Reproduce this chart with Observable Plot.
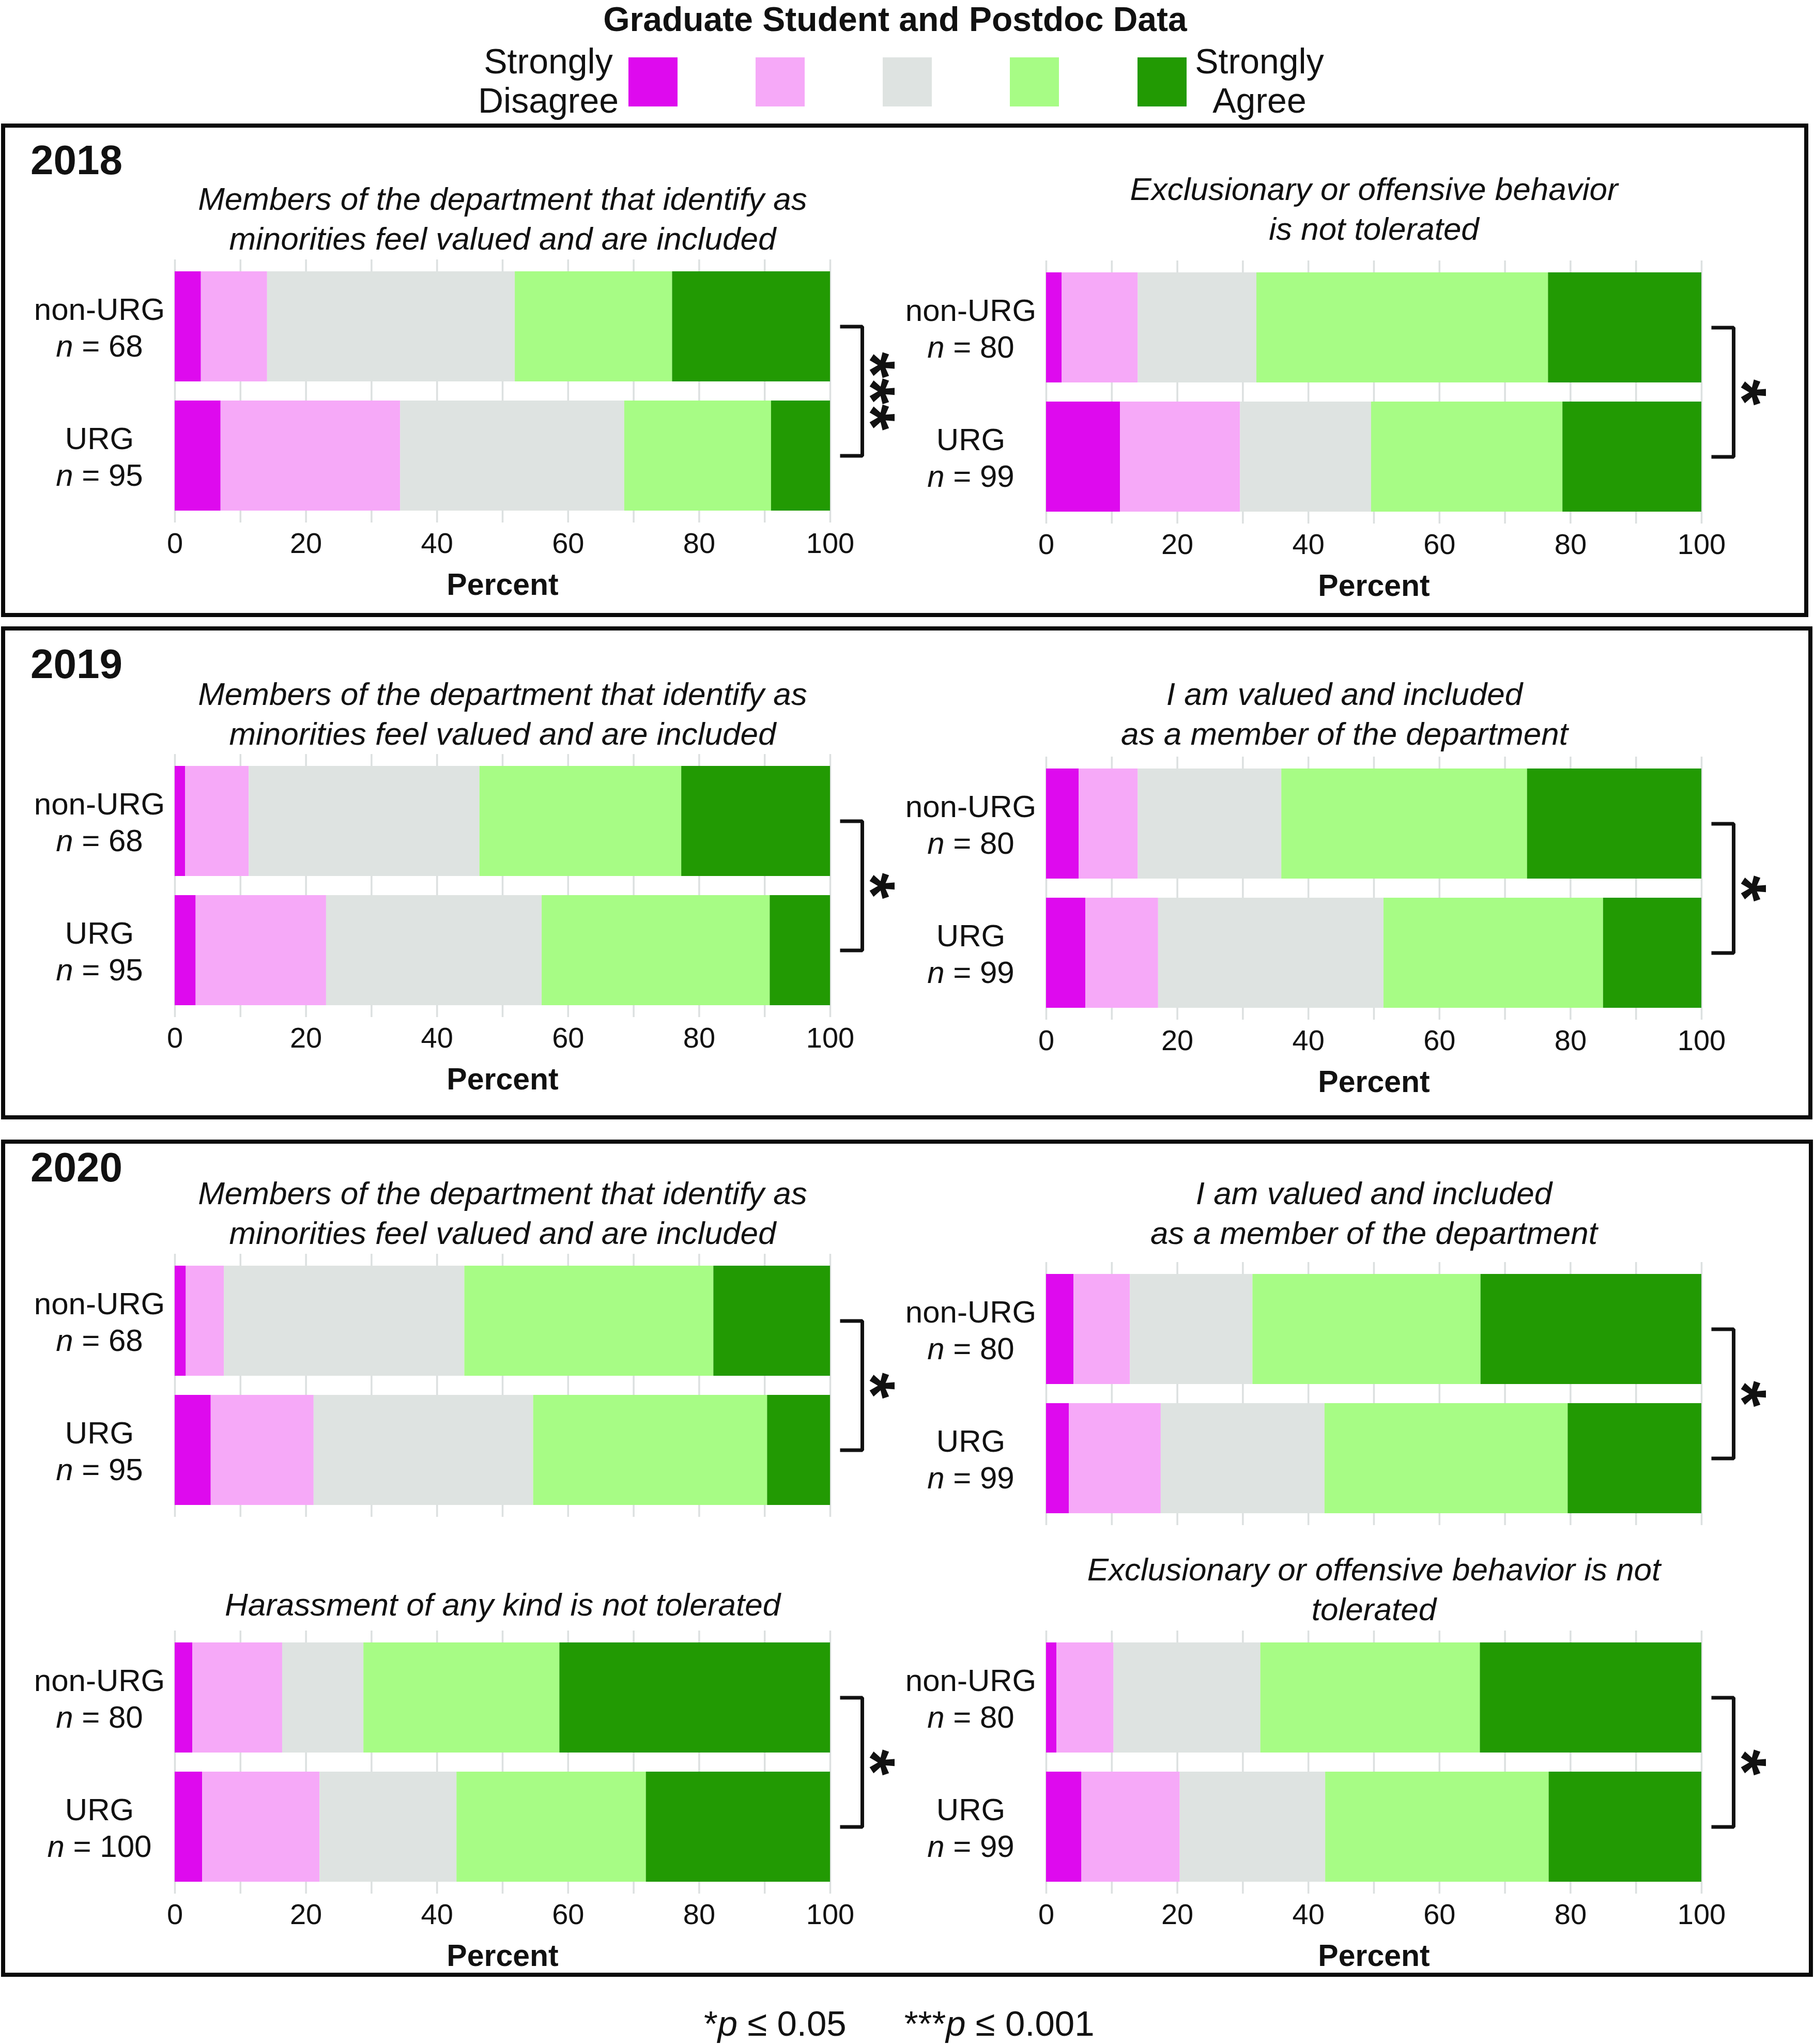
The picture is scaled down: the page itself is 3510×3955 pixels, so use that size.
<!DOCTYPE html>
<html>
<head>
<meta charset="utf-8">
<script src="https://cdn.jsdelivr.net/npm/d3@7"></script>
<script src="https://cdn.jsdelivr.net/npm/@observablehq/plot@0.6"></script>
<style>
  body { margin: 0; background: #fff; }
  #page { position: relative; width: 3510px; height: 3955px; background: #fff; overflow: hidden;
          font-family: "Liberation Sans", Arial, Helvetica, sans-serif; color: #111; }
  .abs { position: absolute; white-space: nowrap; }
  .box { position: absolute; border: 8px solid #0b0b0b; box-sizing: border-box; }
  .sw { position: absolute; width: 95px; height: 95px; }
</style>
</head>
<body>
<div id="page"></div>
<script>
// ---------- data ----------
const levels = ["Strongly Disagree", "Disagree", "Neutral", "Agree", "Strongly Agree"];
const levelColors = ["#DE0AEE", "#F6A9F8", "#DEE3E1", "#A7FC85", "#229A03"];
const groups = ["non-URG", "URG"];
const xTicks = [0, 20, 40, 60, 80, 100];
const gridTicks = [0, 10, 20, 30, 40, 50, 60, 70, 80, 90, 100];

const titleMinorities = "Members of the department that identify as\nminorities feel valued and are included";
const titleExcl2018 = "Exclusionary or offensive behavior\nis not tolerated";
const titleValued = "I am valued and included\nas a member of the department";
const titleHarass = "Harassment of any kind is not tolerated";
const titleExcl2020 = "Exclusionary or offensive behavior is not\ntolerated";

// percentages [SD, D, N, A, SA] for [non-URG, URG]
const minorities2018 = [[4.0, 10.1, 37.8, 24.0, 24.1], [7.0, 27.4, 34.2, 22.4, 9.0]];
const exclusion2018  = [[2.4, 11.6, 18.1, 44.5, 23.4], [11.3, 18.3, 20.0, 29.2, 21.2]];
const minorities2019 = [[1.6, 9.7, 35.2, 30.8, 22.7], [3.2, 19.9, 32.9, 34.8, 9.2]];
const valued2019     = [[5.0, 9.0, 21.9, 37.5, 26.6], [6.0, 11.1, 34.4, 33.5, 15.0]];
const minorities2020 = [[1.7, 5.8, 36.7, 38.0, 17.8], [5.5, 15.7, 33.5, 35.7, 9.6]];
const valued2020     = [[4.2, 8.6, 18.7, 34.8, 33.7], [3.5, 14.0, 25.0, 37.1, 20.4]];
const harassment2020 = [[2.7, 13.7, 12.4, 29.9, 41.3], [4.2, 17.9, 20.9, 28.9, 28.1]];
const exclusion2020  = [[1.6, 8.7, 22.4, 33.5, 33.8], [5.4, 15.0, 22.2, 34.1, 23.3]];

const nMinorities = [68, 95];
const nOther = [80, 99];
const nHarass = [80, 100];

const years = ["2018", "2019", "2020"];
const sigLabels = ["*p ≤ 0.05", "***p ≤ 0.001"];

// ---------- layout ----------
const panels = [
  {values: minorities2018, n: nMinorities, title: titleMinorities, sig: "***", side: "L", ft: 502, tdy: -20, axis: true},
  {values: exclusion2018,  n: nOther,      title: titleExcl2018,  sig: "*",   side: "R", ft: 504, tdy: -41, axis: true},
  {values: minorities2019, n: nMinorities, title: titleMinorities, sig: "*",  side: "L", ft: 1459, tdy: -19, axis: true},
  {values: valued2019,     n: nOther,      title: titleValued,    sig: "*",   side: "R", ft: 1464, tdy: -24, tdx: -57, axis: true},
  {values: minorities2020, n: nMinorities, title: titleMinorities, sig: "*",  side: "L", ft: 2426, tdy: -20, axis: false},
  {values: valued2020,     n: nOther,      title: titleValued,    sig: "*",   side: "R", ft: 2442, tdy: -36, axis: false},
  {values: harassment2020, n: nHarass,     title: titleHarass,    sig: "*",   side: "L", ft: 3155, tdy: -30, axis: true},
  {values: exclusion2020,  n: nOther,      title: titleExcl2020,  sig: "*",   side: "R", ft: 3155, tdy: -21, axis: true}
];

const page = document.getElementById("page");
const FONT = '"Liberation Sans", Arial, Helvetica, sans-serif';

function addDiv(cls, css, html) {
  const d = document.createElement("div");
  d.className = cls;
  Object.assign(d.style, css);
  if (html != null) d.innerHTML = html;
  page.appendChild(d);
  return d;
}

// boxes
addDiv("box", {left: "2px", top: "239px", width: "3497px", height: "955px"});
addDiv("box", {left: "2px", top: "1212px", width: "3505px", height: "954px"});
addDiv("box", {left: "2px", top: "2205px", width: "3506px", height: "1620px"});

// title
addDiv("abs", {left: "1732px", top: "0px", transform: "translateX(-50%)", fontSize: "66px", lineHeight: "74px", fontWeight: "bold"},
  "Graduate Student and Postdoc Data");

// legend
const swX = [1216, 1462, 1708, 1954, 2201];
levels.forEach((lv, i) => addDiv("sw", {left: swX[i] + "px", top: "111px", background: levelColors[i]}));
addDiv("abs", {left: "1061px", top: "80px", transform: "translateX(-50%)", fontSize: "68px", lineHeight: "76px", textAlign: "center"},
  "Strongly<br>Disagree");
addDiv("abs", {left: "2437px", top: "80px", transform: "translateX(-50%)", fontSize: "68px", lineHeight: "76px", textAlign: "center"},
  "Strongly<br>Agree");

// year labels
const yearTops = [270, 1245, 2219];
years.forEach((y, i) => addDiv("abs", {left: "59px", top: yearTops[i] + "px", fontSize: "80px", lineHeight: "80px", fontWeight: "bold"}, y));

// footnote
addDiv("abs", {left: "1362px", top: "3882px", fontSize: "69px", lineHeight: "68px"},
  sigLabels.map(s => s.replace("p", "<i>p</i>")).join('<span style="display:inline-block;width:112px"></span>'));

// ---------- plots ----------
function drawPanel(p) {
  const rows = [];
  groups.forEach((g, gi) => levels.forEach((lv, li) => rows.push({group: g, level: lv, value: p.values[gi][li]})));
  const labels = groups.map((g, gi) => ({group: g, text: `${g}\nn = ${p.n[gi]}`}));
  const side = p.side === "L" ? {left: 0, width: 1760, ml: 338, mr: 154} : {left: 1760, width: 1750, ml: 264, mr: 218};
  const MT = 220, FH = 509, MB = 180;
  const pw = side.width - side.ml - side.mr;
  const u = 100 / pw;
  const bx1 = 100 + 19 * u, bx2 = 100 + 62 * u;
  const bracket = [
    {x: bx1, y: groups[0]}, {x: bx2, y: groups[0]},
    {x: bx2, y: groups[1]}, {x: bx1, y: groups[1]}
  ];
  const marks = [
    Plot.gridX(gridTicks, {stroke: "#dce0e0", strokeOpacity: 1, strokeWidth: 3.5}),
    Plot.barX(rows, {x: "value", y: "group", fill: "level"}),
    Plot.text(labels, {frameAnchor: "left", y: "group", text: "text", dx: -146, textAnchor: "middle",
      lineAnchor: "middle", lineHeight: 1.17, fontSize: 60, fill: "#111"}),
    Plot.text([p.title], {frameAnchor: "top", text: d => d, dx: p.tdx || 0, dy: p.tdy, lineAnchor: "bottom",
      lineHeight: 1.23, fontSize: 62, fontStyle: "italic", fill: "#111"}),
    Plot.line(bracket, {x: "x", y: "y", stroke: "#111", strokeWidth: 7, strokeLinejoin: "miter", strokeLinecap: "butt"}),
    Plot.text([p.sig], {frameAnchor: "right", text: d => d, rotate: 90, dx: 76, fontSize: 130, fontWeight: "bold",
      textAnchor: "middle", lineAnchor: "middle", fill: "#111"})
  ];
  if (p.axis) {
    marks.push(
      Plot.axisX(xTicks, {tickSize: 0, tickPadding: 19, label: null, fontSize: 56, fill: "#111"}),
      Plot.text(["Percent"], {frameAnchor: "bottom", text: d => d, dy: 98, lineAnchor: "top", fontSize: 59,
        fontWeight: "bold", fill: "#111"})
    );
  }
  const svg = Plot.plot({
    width: side.width,
    height: MT + FH + MB,
    marginLeft: side.ml, marginRight: side.mr, marginTop: MT, marginBottom: MB,
    style: {background: "transparent", fontSize: "56px", fontFamily: FONT, color: "#111", overflow: "visible"},
    x: p.axis ? {domain: [0, 100]} : {domain: [0, 100], axis: null},
    y: {domain: groups, paddingInner: 0.15, paddingOuter: 0.09, axis: null},
    color: {domain: levels, range: levelColors},
    marks
  });
  // italic "n" in the sample-size labels
  svg.querySelectorAll("tspan").forEach(t => {
    const s = t.textContent;
    if (/^n = /.test(s)) {
      t.textContent = "";
      const it = document.createElementNS("http://www.w3.org/2000/svg", "tspan");
      it.setAttribute("font-style", "italic");
      it.textContent = "n";
      t.appendChild(it);
      t.appendChild(document.createTextNode(s.slice(1)));
    }
  });
  svg.style.position = "absolute";
  svg.style.left = side.left + "px";
  svg.style.top = (p.ft - MT) + "px";
  svg.style.maxWidth = "none";
  page.appendChild(svg);
}

panels.forEach(drawPanel);
</script>
</body>
</html>
